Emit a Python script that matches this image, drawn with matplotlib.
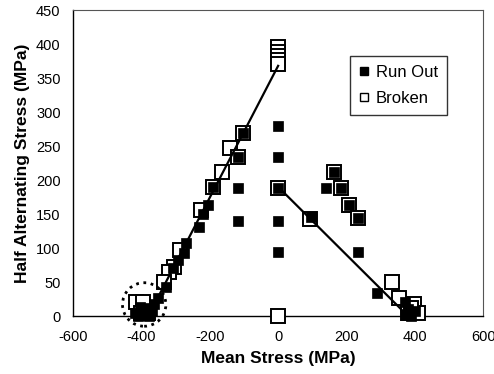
import matplotlib
matplotlib.use("Agg")
import matplotlib.pyplot as plt
from matplotlib.patches import Ellipse
from matplotlib.lines import Line2D

plt.rcParams['font.family'] = ['Liberation Sans', 'DejaVu Sans']
plt.rcParams['axes.unicode_minus'] = False

# run out specimens (filled squares)
runout_x = [0, 0, 0, 0, 0,
            -118, -118,
            -104, -118, -191, -206, -220, -231, -270, -275, -294, -309, -329, -353,
            140, 163, 184, 208, 233, 95, 233, 289,
            370, 379, 385, 390, 400, 375,
            -420, -410, -400, -395, -385, -378, -370, -362, -405]
runout_y = [280, 234, 188, 140, 94,
            188, 140,
            269, 234, 190, 163, 150, 131, 107, 92, 82, 70, 43, 26,
            188, 212, 188, 163, 144, 145, 94, 34,
            20, 11, 5, 0, 8, 2,
            5, 0, 8, 2, 12, 0, 8, 18, 14]

# broken specimens (open squares)
broken_x = [0, 0, 0, 0, 0, 0, 0,
            -104, -141, -118, -165, -191, -226, -286, -305, -320, -334,
            -415, -395, -400, -380,
            163, 184, 208, 233, 92, 333, 355, 398, 409, 380, 390]
broken_y = [395, 389, 383, 377, 371, 0, 188,
            269, 247, 234, 212, 190, 156, 97, 72, 65, 50,
            20, 20, 5, 5,
            212, 188, 163, 144, 142, 50, 26, 18, 5, 5, 12]

# fitted lines
left_line_x = [-380, 0]
left_line_y = [0, 368]
right_line_x = [0, 380]
right_line_y = [190, 0]

fig = plt.figure(figsize=(4.94, 3.74), dpi=100)
ax = fig.add_axes([0.148, 0.155, 0.830, 0.818])

ax.plot(broken_x, broken_y, 's', ms=10.5, mfc='white', mec='black', mew=1.4,
        clip_on=False, zorder=3)
ax.plot(left_line_x, left_line_y, '-', color='black', lw=1.6, zorder=4)
ax.plot(right_line_x, right_line_y, '-', color='black', lw=1.6, zorder=4)
ax.plot(runout_x, runout_y, 's', ms=7.2, mfc='black', mec='black', mew=0.5,
        clip_on=False, zorder=5)

ax.add_patch(Ellipse((-392, 17), 127, 64, fill=False, ls=':', lw=2,
                     ec='black', clip_on=False, zorder=6))

ax.set_xlim(-600, 600)
ax.set_ylim(0, 450)
ax.set_xticks(range(-600, 601, 200))
ax.set_yticks(range(0, 451, 50))
ax.tick_params(length=0, labelsize=10.5)
ax.tick_params(axis='y', pad=9)
ax.tick_params(axis='x', pad=10)

for s in ['top', 'right']:
    ax.spines[s].set_color('#555555')
    ax.spines[s].set_linewidth(0.8)
for s in ['left', 'bottom']:
    ax.spines[s].set_linewidth(1.0)

ax.set_xlabel('Mean Stress (MPa)', fontsize=12.5, fontweight='bold', labelpad=5)
ax.set_ylabel('Half Alternating Stress (MPa)', fontsize=12.5, fontweight='bold', labelpad=4)

handles = [Line2D([], [], ls='none', marker='s', ms=6, mfc='black', mec='black'),
           Line2D([], [], ls='none', marker='s', ms=6, mfc='white', mec='black', mew=1.0)]
leg = ax.legend(handles, ['Run Out', 'Broken'], loc='upper right',
                bbox_to_anchor=(0.912, 0.85), borderaxespad=0, fontsize=12,
                frameon=True, fancybox=False, edgecolor='black', handlelength=0.6,
                handletextpad=0.4, borderpad=0.55, labelspacing=0.65)
leg.get_frame().set_linewidth(1.0)

fig.savefig('out.png', dpi=100)
